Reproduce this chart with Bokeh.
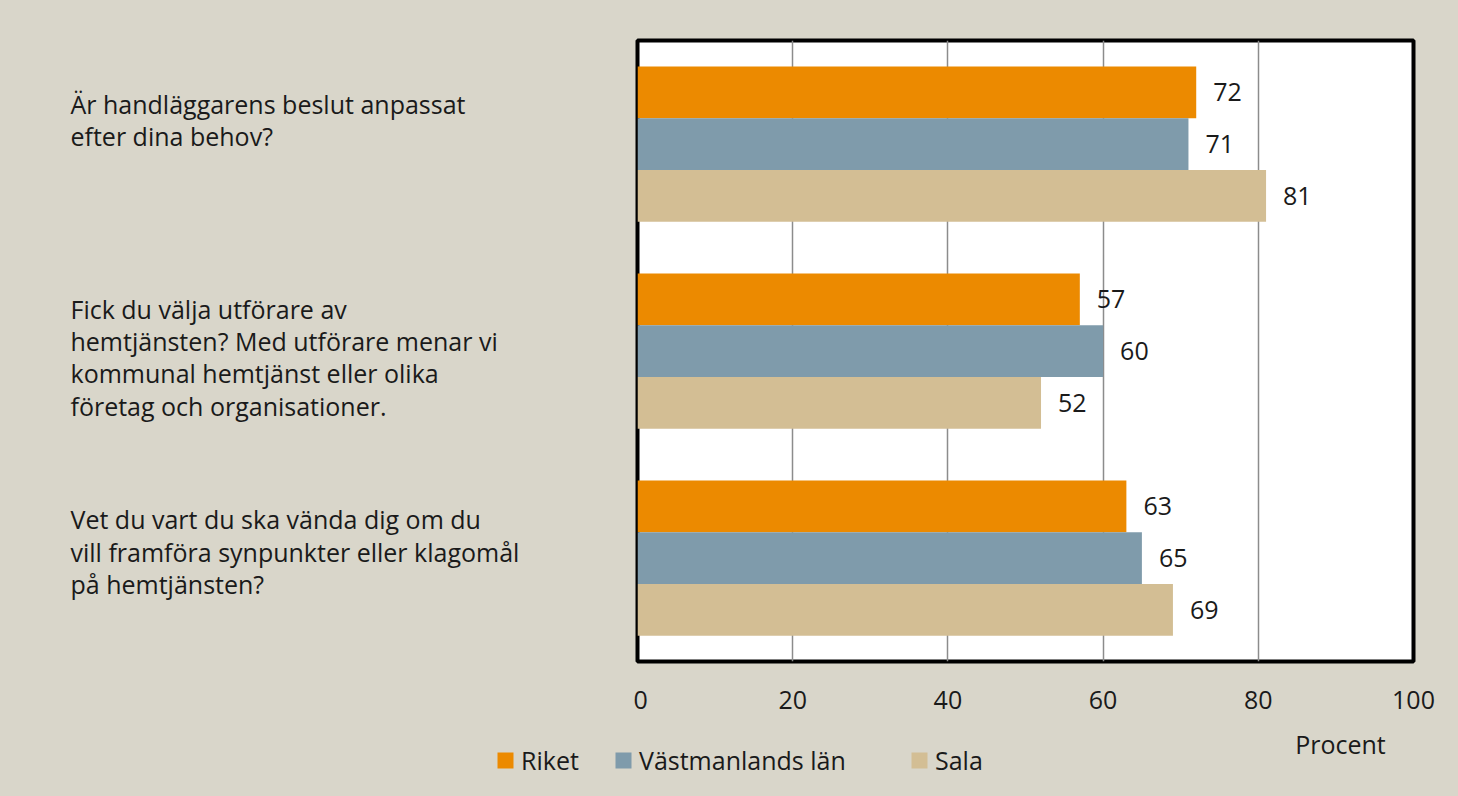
from bokeh.plotting import figure
from bokeh.models import ColumnDataSource, LabelSet, Legend, LegendItem, FactorRange
from bokeh.layouts import column, row
from bokeh.transform import dodge
from bokeh.core.properties import value
from bokeh.embed import file_html
from bokeh.resources import INLINE

questions = [
    "Är handläggarens beslut anpassat\nefter dina behov?",
    "Fick du välja utförare av\nhemtjänsten? Med utförare menar vi\nkommunal hemtjänst eller olika\nföretag och organisationer.",
    "Vet du vart du ska vända dig om du\nvill framföra synpunkter eller klagomål\npå hemtjänsten?",
]
keys = ["q1", "q2", "q3"]
series_names = ["Riket", "Västmanlands län", "Sala"]
riket = [72, 57, 63]
vastmanland = [71, 60, 65]
sala = [81, 52, 69]
colors = ["#EC8A00", "#7F9BAB", "#D3BE94"]
x_ticks = [0, 20, 40, 60, 80, 100]
axis_title = "Procent"

FONT = "Open Sans"
FS = "25px"
BG = "#D9D6CA"
TXT = "#1A1A1A"

W, H = 1458, 796
TOP_H = 725
LEFT_W = 633

yr = FactorRange(*reversed(keys))
src = ColumnDataSource(dict(q=keys, riket=riket, vast=vastmanland, sala=sala))

def clear(fig):
    fig.border_fill_alpha = 0
    fig.outline_line_color = None

# ---- left panel with question texts
left = figure(width=LEFT_W, height=TOP_H, y_range=yr, x_range=(0, LEFT_W),
              output_backend="svg", toolbar_location=None,
              min_border_left=0, min_border_right=0, min_border_top=40, min_border_bottom=64)
clear(left)
left.background_fill_alpha = 0
left.axis.visible = False
left.grid.visible = False
label_shift = [0.115, -0.03, 0.03]
for k, qt, sh in zip(keys, questions, label_shift):
    s = ColumnDataSource(dict(q=[k], t=[qt], x=[70]))
    left.text(x="x", y=dodge("q", sh, range=yr), text="t", source=s,
              text_align="left", text_baseline="middle", text_font=value(FONT),
              text_font_size=FS, text_color=TXT, text_line_height=0.95)

# ---- main chart
p = figure(width=W - LEFT_W, height=TOP_H, y_range=yr, x_range=(0, 100),
           output_backend="svg", toolbar_location=None,
           background_fill_color="white",
           min_border_left=4, min_border_right=45, min_border_top=40, min_border_bottom=64)
p.border_fill_alpha = 0
p.outline_line_color = "black"
p.outline_line_width = 4

cols = ["riket", "vast", "sala"]
offsets = [0.25, 0.0, -0.25]
for c, off, col in zip(cols, offsets, colors):
    p.hbar(y=dodge("q", off, range=yr), right=c, left=0, height=0.25,
           source=src, fill_color=col, line_color=None)
    p.add_layout(LabelSet(x=c, y=dodge("q", off, range=yr), text=c, source=src,
                          x_offset=17, text_align="left", text_baseline="middle",
                          text_font=value(FONT), text_font_size=FS, text_color=TXT))

p.yaxis.visible = False
p.ygrid.visible = False
p.xgrid.grid_line_color = "#8C8C8C"
p.xgrid.grid_line_width = 1.5
p.xaxis.ticker = x_ticks
p.xaxis.axis_line_color = None
p.xaxis.major_tick_line_color = None
p.xaxis.minor_tick_line_color = None
p.xaxis.major_label_standoff = 23
p.xaxis.major_label_text_font = FONT
p.xaxis.major_label_text_font_size = FS
p.xaxis.major_label_text_color = TXT

# ---- bottom strip: axis title + legend
BH = H - TOP_H
bot = figure(width=W, height=BH, x_range=(0, W), y_range=(BH, 0),
             output_backend="svg", toolbar_location=None,
             min_border_left=0, min_border_right=0, min_border_top=0, min_border_bottom=0)
clear(bot)
bot.background_fill_alpha = 0
bot.axis.visible = False
bot.grid.visible = False
bot.text(x=[1340], y=[18], text=[axis_title], text_align="center", text_baseline="middle",
         text_font=value(FONT), text_font_size=FS, text_color=TXT)
legend_x = [495, 613, 909]
for name, c, lx in zip(series_names, colors, legend_x):
    # zero-size proxy renderer, only used to give the legend its swatch
    d = bot.quad(left=[0], right=[0], top=[0], bottom=[0], fill_color=c, line_color=None)
    bot.add_layout(Legend(items=[LegendItem(label=name, renderers=[d])],
                          orientation="horizontal", location=(lx, 19),
                          background_fill_alpha=0, border_line_color=None,
                          label_text_font=FONT, label_text_font_size=FS, label_text_color=TXT,
                          glyph_width=20, glyph_height=20, label_standoff=6,
                          padding=0, margin=0))

layout = column(row(left, p), bot, styles={"background-color": BG})
open("out.html", "w").write(file_html(layout, INLINE))
